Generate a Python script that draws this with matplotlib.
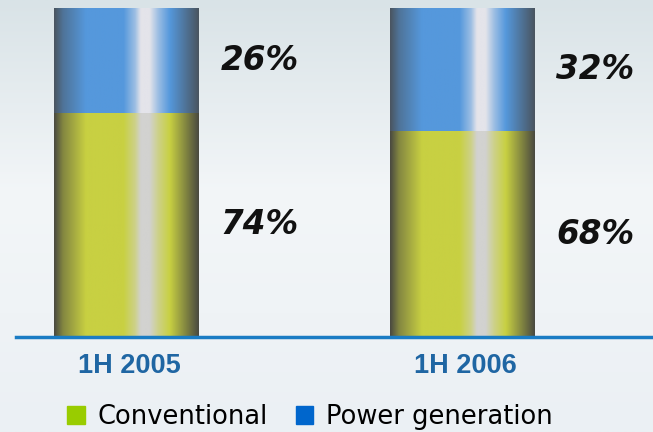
import numpy as np
import matplotlib
matplotlib.use('Agg')
import matplotlib.pyplot as plt
from matplotlib.colors import to_rgb
from matplotlib.patches import Patch

plt.rcParams['font.family'] = ['DejaVu Sans']

# data (segment heights as drawn, labels as printed)
periods = ['1H 2005', '1H 2006']
conventional = [68.3, 62.6]
power_gen = [31.7, 37.4]
conv_labels = ['74%', '68%']
power_labels = ['26%', '32%']

green = '#99cc00'
blue = '#0066cc'


def shade(main, light, edge):
    # horizontal profile for a cylinder look
    m = np.array(to_rgb(main))
    l = np.array(to_rgb(light))
    e = np.array(to_rgb(edge))
    t = [0.0, 0.06, 0.22, 0.48, 0.56, 0.6, 0.66, 0.72, 0.8, 0.92, 1.0]
    c = np.array([e, 0.55 * e + 0.45 * m, m, m, 0.5 * l + 0.5 * m, l, l,
                  0.5 * l + 0.5 * m, m, 0.6 * e + 0.4 * m, e])
    xs = np.linspace(0, 1, 200)
    img = np.stack([np.interp(xs, t, c[:, k]) for k in range(3)], axis=-1)
    return img[np.newaxis, :, :]


blue_img = shade('#5598dc', '#e4e4ea', '#4a5560')
green_img = shade('#c8d042', '#d2d2d0', '#4a4a40')

fig = plt.figure(figsize=(6.53, 4.32), dpi=100)

# background gradient
bg = fig.add_axes([0, 0, 1, 1], zorder=0)
grad = np.linspace(0, 1, 256)
top = np.array(to_rgb('#d9e3e7'))
mid = np.array(to_rgb('#f3f6f8'))
bot = np.array(to_rgb('#ebf0f4'))
col = np.array([np.interp(grad, [0, 0.45, 1], [top[k], mid[k], bot[k]]) for k in range(3)]).T
bg.imshow(col[:, np.newaxis, :], aspect='auto', extent=(0, 1, 0, 1))
bg.set_axis_off()

ax = fig.add_axes([0, (432 - 337) / 432, 1, 337 / 432], zorder=1)
ax.patch.set_alpha(0)
ax.set_xlim(-0.377, 1.569)
ax.set_ylim(0, 100 * 337 / 328.5)
ax.set_axis_off()

w = 0.432
x = np.arange(len(periods))
for i in x:
    c = conventional[i]
    p = power_gen[i]
    ax.imshow(green_img, aspect='auto', extent=(i - w / 2, i + w / 2, 0, c), zorder=2)
    ax.imshow(blue_img, aspect='auto', extent=(i - w / 2, i + w / 2, c, c + p), zorder=2)
    ax.text(i + 0.397, c / 2, conv_labels[i], ha='center', va='center',
            fontsize=23.5, fontweight='bold', style='italic', color='#111111')
    ax.text(i + 0.397, c + p / 2, power_labels[i], ha='center', va='center',
            fontsize=23.5, fontweight='bold', style='italic', color='#111111')
    ax.text(i + 0.01, -8.8, periods[i], ha='center', va='center', fontsize=19.5,
            fontweight='bold', color='#1f66a3', family='Liberation Sans', clip_on=False)

ax.axhline(0, xmin=16 / 653, xmax=1, color='#1a7cc4', lw=2.5, zorder=3, clip_on=False)

handles = [Patch(color=green, label='Conventional'), Patch(color=blue, label='Power generation')]
fig.legend(handles=handles, loc='center', bbox_to_anchor=(310 / 653, 1 - 417 / 432), ncol=2,
           frameon=False, fontsize=18.5, handlelength=0.68, handleheight=0.68,
           handletextpad=0.5, columnspacing=1.1)

fig.savefig('out.png', dpi=100)
